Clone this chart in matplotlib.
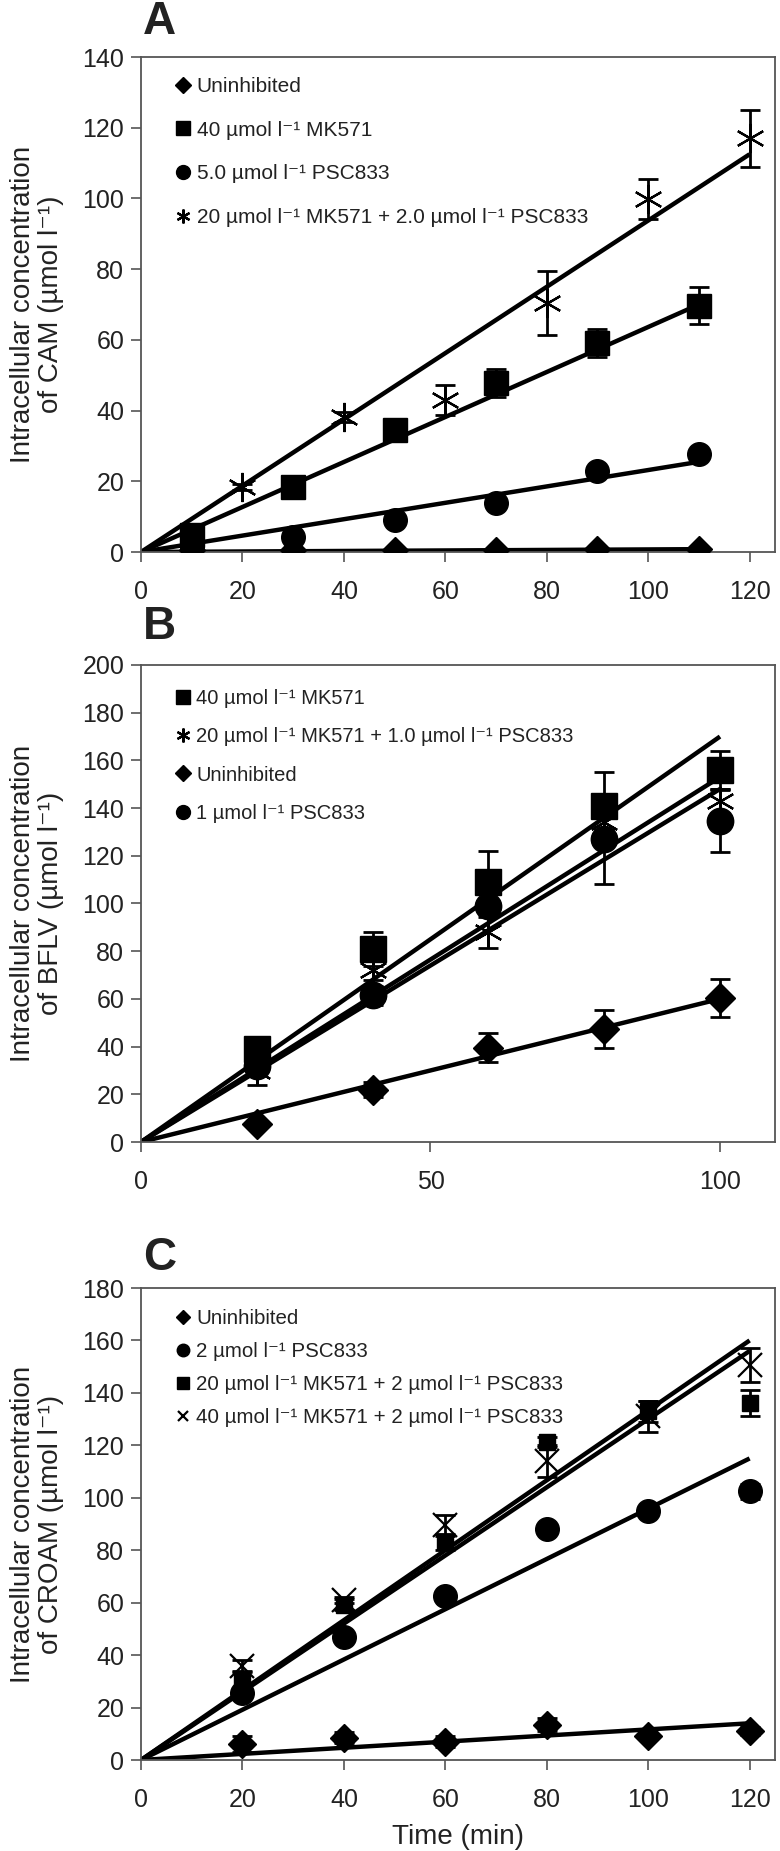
import matplotlib
matplotlib.use("Agg")
import matplotlib.pyplot as plt
from matplotlib.lines import Line2D

# ---------------- data ----------------
# Panel A (CAM)
a_x6 = [10, 30, 50, 70, 90, 110]
a_x6b = [20, 40, 60, 80, 100, 120]
a_unin = [0.5, 0.5, 0.6, 0.6, 0.8, 0.9]
a_unin_err = [0, 0, 0, 0, 0, 0]
a_mk = [4.8, 18.3, 34.4, 47.8, 59.1, 69.7]
a_mk_err = [1.5, 1.5, 2.2, 3.9, 3.9, 5.2]
a_psc = [1.5, 4.3, 9.1, 14.0, 23.0, 27.8]
a_psc_err = [0, 0, 0, 0, 0, 0]
a_comb = [18.3, 38.2, 43.0, 70.5, 99.8, 117.0]
a_comb_err = [0.8, 1.5, 4.2, 9.0, 5.7, 8.0]
a_fit_x = [110, 110, 110, 120]
a_fit_y = [0.8, 70.0, 25.5, 112.5]
a_labels = ["Uninhibited", "40 µmol l⁻¹ MK571", "5.0 µmol l⁻¹ PSC833",
            "20 µmol l⁻¹ MK571 + 2.0 µmol l⁻¹ PSC833"]

# Panel B (BFLV)
b_x = [20, 40, 60, 80, 100]
b_mk = [39.0, 81.0, 109.0, 141.0, 156.0]
b_mk_err = [5, 7, 13, 14, 8]
b_comb = [29.6, 72.0, 88.0, 134.0, 143.0]
b_comb_err = [5.6, 4, 6.5, 3, 5]
b_unin = [7.5, 22.0, 39.5, 47.5, 60.5]
b_unin_err = [1, 3, 6, 8, 8]
b_psc = [32.0, 61.5, 99.0, 127.0, 134.5]
b_psc_err = [2, 4, 3, 19, 13]
b_fit_x = [100, 100, 100, 100]
b_fit_y = [170.0, 153.0, 60.0, 148.0]
b_labels = ["40 µmol l⁻¹ MK571", "20 µmol l⁻¹ MK571 + 1.0 µmol l⁻¹ PSC833",
            "Uninhibited", "1 µmol l⁻¹ PSC833"]

# Panel C (CROAM)
c_x = [20, 40, 60, 80, 100, 120]
c_unin = [6.0, 8.5, 7.0, 13.5, 9.0, 11.0]
c_unin_err = [3, 2, 2, 2.5, 1, 1.5]
c_psc = [25.7, 47.0, 62.6, 88.0, 94.8, 102.4]
c_psc_err = [1, 1, 1, 1, 1, 3]
c_mk20 = [30.5, 59.3, 83.0, 121.3, 133.0, 136.0]
c_mk20_err = [3, 2, 3, 2, 4, 5]
c_mk40 = [36.0, 61.0, 89.5, 114.0, 131.0, 150.5]
c_mk40_err = [2, 1, 4, 6, 6, 6.5]
c_fit_x = [120, 120, 120, 120]
c_fit_y = [14.0, 115.0, 156.0, 160.0]
c_labels = ["Uninhibited", "2 µmol l⁻¹ PSC833",
            "20 µmol l⁻¹ MK571 + 2 µmol l⁻¹ PSC833",
            "40 µmol l⁻¹ MK571 + 2 µmol l⁻¹ PSC833"]

# ---------------- style ----------------
NARROW = ["Liberation Sans Narrow", "Liberation Sans", "DejaVu Sans"]
REG = ["Liberation Sans", "DejaVu Sans"]
plt.rcParams["font.family"] = REG
SPINE = "#555555"
TXT = "#222222"
STAR = (6, 2, 0)

W, H = 780, 1851
fig = plt.figure(figsize=(W / 100, H / 100), dpi=100)


def ax_rect(left, top, right, bottom):
    return [left / W, 1 - bottom / H, (right - left) / W, (bottom - top) / H]


def style_axes(ax, yfam, xfam, size):
    for s in ax.spines.values():
        s.set_color(SPINE)
        s.set_linewidth(1.3)
    ax.tick_params(direction="out", length=7, width=1.2, color=SPINE,
                   labelsize=size, labelcolor=TXT, top=False, right=False)
    ax.tick_params(axis="x", pad=13)
    ax.tick_params(axis="y", pad=5)
    for lab in ax.get_yticklabels():
        lab.set_family(yfam)
    for lab in ax.get_xticklabels():
        lab.set_family(xfam)


def series(ax, x, y, e, marker, ms, mew=0):
    ax.errorbar(x, y, yerr=e, fmt="none", ecolor="black", elinewidth=2,
                capsize=7, capthick=2, zorder=3)
    if marker in ("x", STAR):
        ax.plot(x, y, linestyle="none", marker=marker, ms=ms, color="black",
                mew=mew, zorder=4)
    else:
        ax.plot(x, y, linestyle="none", marker=marker, ms=ms, color="black",
                mec="black", zorder=4)


def fits(ax, fx, fy):
    for xe, ye in zip(fx, fy):
        ax.plot([0, xe], [0, ye], color="black", lw=3.2, zorder=2,
                solid_capstyle="butt")


def legend(ax, labels, markers, sizes, fam, fs, spacing, anchor):
    handles = []
    for m, s in zip(markers, sizes):
        if m in ("x", STAR):
            handles.append(Line2D([], [], linestyle="none", marker=m, ms=s,
                                  color="black", mew=1.6))
        else:
            handles.append(Line2D([], [], linestyle="none", marker=m, ms=s,
                                  color="black"))
    leg = ax.legend(handles, labels, loc="upper left", bbox_to_anchor=anchor,
                    frameon=False, handlelength=0.7, handletextpad=0.3,
                    borderpad=0, borderaxespad=0, labelspacing=spacing,
                    prop={"family": fam, "size": fs})
    for t in leg.get_texts():
        t.set_color(TXT)


def panel_letter(y_center, letter):
    fig.text(143 / W, 1 - y_center / H, letter, fontsize=33, fontweight="bold",
             ha="left", va="center", color=TXT, family=REG)


def ylabel(top, bottom, text):
    fig.text(37 / W, 1 - (top + bottom) / 2 / H, text, rotation=90,
             ha="center", va="center", multialignment="center",
             fontsize=20, color=TXT, family=REG, linespacing=1.12)


# ---------------- Panel A ----------------
axA = fig.add_axes(ax_rect(141, 57, 775, 552))
fits(axA, a_fit_x, a_fit_y)
series(axA, a_x6, a_unin, a_unin_err, "D", 13)
series(axA, a_x6, a_mk, a_mk_err, "s", 17)
series(axA, a_x6, a_psc, a_psc_err, "o", 17)
series(axA, a_x6b, a_comb, a_comb_err, STAR, 21, 1.6)
axA.set_xlim(0, 125)
axA.set_ylim(0, 140)
axA.set_xticks([0, 20, 40, 60, 80, 100, 120])
axA.set_yticks(range(0, 141, 20))
style_axes(axA, NARROW, NARROW, 18)
legend(axA, a_labels, ["D", "s", "o", STAR], [8, 10, 10, 10], NARROW, 15, 1.19,
       (0.055, 0.96))
panel_letter(22, "A")
ylabel(57, 552, "Intracellular concentration\nof CAM (µmol l⁻¹)")

# ---------------- Panel B ----------------
axB = fig.add_axes(ax_rect(141, 665, 775, 1142))
fits(axB, b_fit_x, b_fit_y)
series(axB, b_x, b_unin, b_unin_err, "D", 15)
series(axB, b_x, b_comb, b_comb_err, STAR, 21, 1.6)
series(axB, b_x, b_psc, b_psc_err, "o", 19)
series(axB, b_x, b_mk, b_mk_err, "s", 19)
axB.set_xlim(0, 109.5)
axB.set_ylim(0, 200)
axB.set_xticks([0, 50, 100])
axB.set_yticks(range(0, 201, 20))
style_axes(axB, NARROW, REG, 18)
legend(axB, b_labels, ["s", STAR, "D", "o"], [10, 10, 8, 10], NARROW, 14.5,
       0.96, (0.055, 0.95))
panel_letter(627, "B")
ylabel(665, 1142, "Intracellular concentration\nof BFLV (µmol l⁻¹)")

# ---------------- Panel C ----------------
axC = fig.add_axes(ax_rect(141, 1288, 775, 1760))
fits(axC, c_fit_x, c_fit_y)
series(axC, c_x, c_unin, c_unin_err, "D", 14)
series(axC, c_x, c_psc, c_psc_err, "o", 17)
series(axC, c_x, c_mk20, c_mk20_err, "s", 11)
series(axC, c_x, c_mk40, c_mk40_err, "x", 17, 1.6)
axC.set_xlim(0, 125)
axC.set_ylim(0, 180)
axC.set_xticks([0, 20, 40, 60, 80, 100, 120])
axC.set_yticks(range(0, 181, 20))
style_axes(axC, REG, REG, 18)
legend(axC, c_labels, ["D", "o", "s", "x"], [7, 9, 8, 7], REG, 14.8, 0.68,
       (0.055, 0.955))
panel_letter(1258, "C")
ylabel(1288, 1760, "Intracellular concentration\nof CROAM (µmol l⁻¹)")
fig.text(458 / W, 1 - 1837 / H, "Time (min)", ha="center", va="center",
         fontsize=20, color=TXT, family=REG)

fig.savefig("out.png", dpi=100)
